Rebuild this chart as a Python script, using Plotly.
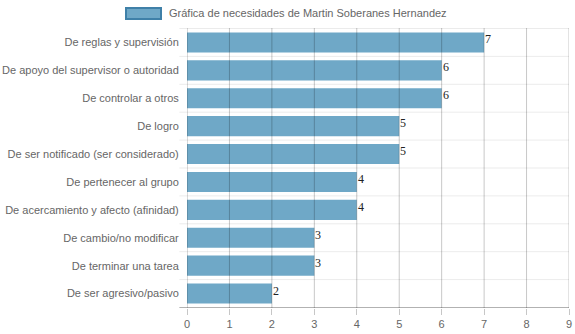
import plotly.graph_objects as go

categories = [
    "De reglas y supervisión",
    "De apoyo del supervisor o autoridad",
    "De controlar a otros",
    "De logro",
    "De ser notificado (ser considerado)",
    "De pertenecer al grupo",
    "De acercamiento y afecto (afinidad)",
    "De cambio/no modificar",
    "De terminar una tarea",
    "De ser agresivo/pasivo",
]
values = [7, 6, 6, 5, 5, 4, 4, 3, 3, 2]
x_ticks = [0, 1, 2, 3, 4, 5, 6, 7, 8, 9]
series_name = "Gráfica de necesidades de Martin Soberanes Hernandez"

bar_color = "#6fa8c7"
border_color = "#3f80a8"
FONT = "Liberation Sans, Arial"

fig = go.Figure()
fig.add_trace(go.Bar(
    x=values, y=categories, orientation="h",
    marker=dict(color=bar_color, line=dict(width=0)),
    width=0.72, showlegend=False, hoverinfo="x+y",
))

shapes = []
# vertical grid lines drawn above bars
for t in x_ticks:
    shapes.append(dict(type="line", xref="x", yref="paper", x0=t, x1=t, y0=0, y1=1.0,
                       line=dict(color="rgba(0,0,0,0.22)" if t != 0 else "rgba(0,0,0,0.3)", width=1),
                       layer="above"))
# horizontal grid lines between categories
for i in range(len(categories) + 1):
    yv = i - 0.5
    last = i == len(categories)
    shapes.append(dict(type="line", xref="paper", yref="y", x0=-0.02, x1=1, y0=yv, y1=yv,
                       line=dict(color="rgba(0,0,0,0.3)" if last else "rgba(0,0,0,0.08)", width=1),
                       layer="below"))
# legend box
shapes.append(dict(type="rect", xref="paper", yref="paper",
                   x0=(126 - 187) / 382, x1=(161 - 187) / 382,
                   y0=(308 - 19) / 280, y1=(308 - 8) / 280,
                   fillcolor=bar_color, line=dict(color=border_color, width=2), layer="above"))

annotations = []
for c, v in zip(categories, values):
    annotations.append(dict(x=v, y=c, xref="x", yref="y", text=str(v), showarrow=False,
                            xanchor="left", yanchor="middle", xshift=-1, yshift=3,
                            font=dict(family="Liberation Serif, DejaVu Serif", size=12, color="#222")))
annotations.append(dict(x=(167 - 187) / 382, y=(308 - 13.5) / 280, xref="paper", yref="paper",
                        text=series_name, showarrow=False, xanchor="left", yanchor="middle",
                        font=dict(family=FONT, size=11, color="#666")))

fig.update_layout(
    width=575, height=334,
    margin=dict(l=187, r=6, t=28, b=26),
    paper_bgcolor="white", plot_bgcolor="white",
    font=dict(family=FONT, size=11, color="#666"),
    bargap=0.28,
    xaxis=dict(range=[0, 9], tickvals=x_ticks, showgrid=False, zeroline=False, automargin=False,
               ticks="outside", ticklen=6, tickcolor="rgba(0,0,0,0.22)",
               tickfont=dict(size=11, color="#666"), fixedrange=True),
    yaxis=dict(autorange="reversed", showgrid=False, zeroline=False, ticks="outside",
               automargin=False,
               ticklen=5, tickcolor="rgba(0,0,0,0)", tickfont=dict(size=11, color="#666"),
               fixedrange=True),
    shapes=shapes, annotations=annotations, showlegend=False,
)

fig.write_html("out.html")
